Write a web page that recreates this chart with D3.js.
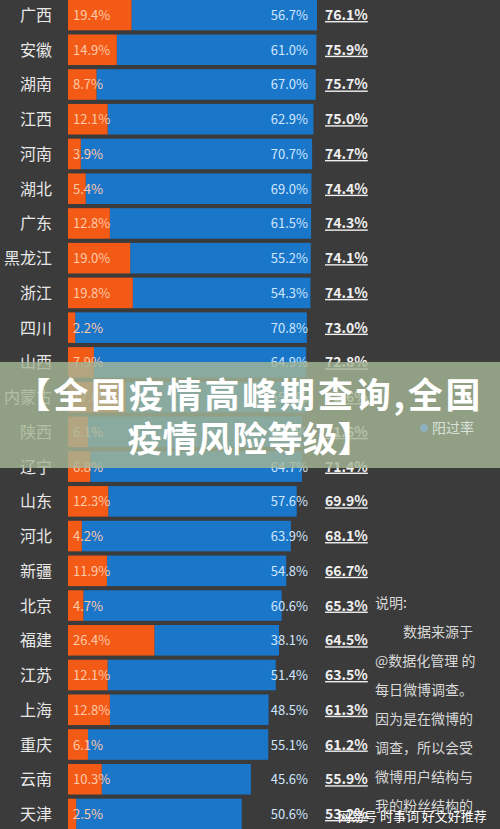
<!DOCTYPE html><html><head><meta charset="utf-8"><script src="https://cdn.jsdelivr.net/npm/d3@7"></script>
<style>body{margin:0;background:#3b3b3b}svg{display:block}</style></head><body><svg width="500" height="829"></svg>
<script>
const provinces=["广西","安徽","湖南","江西","河南","湖北","广东","黑龙江","浙江","四川","山西","内蒙古","陕西","辽宁","山东","河北","新疆","北京","福建","江苏","上海","重庆","云南","天津"];
const current=[19.4,14.9,8.7,12.1,3.9,5.4,12.8,19.0,19.8,2.2,7.9,17.6,6.1,6.8,12.3,4.2,11.9,4.7,26.4,12.1,12.8,6.1,10.3,2.5];
const past=[56.7,61.0,67.0,62.9,70.7,69.0,61.5,55.2,54.3,70.8,64.9,55.0,65.5,64.7,57.6,63.9,54.8,60.6,38.1,51.4,48.5,55.1,45.6,50.6];
const total=[76.1,75.9,75.7,75.0,74.7,74.4,74.3,74.1,74.1,73.0,72.8,72.6,71.6,71.4,69.9,68.1,66.7,65.3,64.5,63.5,61.3,61.2,55.9,53.2];
const notes=["说明:","　　数据来源于","@数据化管理 的","每日微博调查。","因为是在微博的","调查，所以会受","微博用户结构与","我的粉丝结构的"];
const svg=d3.select("svg");
const x=d3.scaleLinear().domain([0,76.1]).range([68,317]);
const y=d3.scaleBand().domain(provinces).range([-2,831]).paddingInner(0.12).paddingOuter(0.05);
const F="'Noto Sans CJK SC','Noto Sans',sans-serif";
const g=svg.selectAll("g.r").data(provinces).join("g");
g.append("rect").attr("x",(d,i)=>x(current[i])).attr("y",d=>y(d)).attr("width",(d,i)=>x(current[i]+past[i])-x(current[i])).attr("height",y.bandwidth()).attr("fill","#1a76c9");
g.append("rect").attr("x",x(0)).attr("y",d=>y(d)).attr("width",(d,i)=>x(current[i])-x(0)).attr("height",y.bandwidth()).attr("fill","#f25a16");
g.append("text").attr("x",52).attr("y",d=>y(d)+y.bandwidth()/2+6).attr("text-anchor","end").attr("fill","#e8e8e8").attr("font-size",16).attr("font-family",F).text(d=>d);
g.append("text").attr("x",73).attr("y",d=>y(d)+y.bandwidth()/2+5).attr("fill","#ffc8a8").attr("font-size",13).attr("font-family",F).text((d,i)=>current[i].toFixed(1)+"%");
g.append("text").attr("x",308).attr("y",d=>y(d)+y.bandwidth()/2+5).attr("text-anchor","end").attr("fill","#cfe6ff").attr("font-size",13).attr("font-family",F).text((d,i)=>past[i].toFixed(1)+"%");
g.append("text").attr("x",325).attr("y",d=>y(d)+y.bandwidth()/2+5).attr("fill","#f0f0f0").attr("font-size",14).attr("font-weight","bold").attr("font-family",F).attr("text-decoration","underline").text((d,i)=>total[i].toFixed(1)+"%");
svg.append("g").selectAll("text").data(notes).join("text").attr("x",375).attr("y",(d,i)=>608+i*29).attr("fill","#d8d8d8").attr("font-size",14).attr("font-family",F).attr("xml:space","preserve").text(d=>d);
svg.append("text").attr("x",338).attr("y",821).attr("fill","#fff").attr("font-size",13).attr("font-family",F).text("网易号 时事词 好文好推荐");
svg.append("rect").attr("x",0).attr("y",362).attr("width",500).attr("height",106).attr("fill","rgba(165,182,150,0.82)");
svg.append("circle").attr("cx",424).attr("cy",428).attr("r",4).attr("fill","#8fb0c0");
svg.append("text").attr("x",432).attr("y",433).attr("fill","#d8e2d8").attr("font-size",14).attr("font-family",F).text("阳过率");
svg.append("text").attr("x",248).attr("y",408).attr("text-anchor","middle").attr("fill","#fff").attr("font-size",35).attr("font-weight","bold").attr("font-family",F).attr("textLength",465).text("【全国疫情高峰期查询,全国");
svg.append("text").attr("x",250).attr("y",452).attr("text-anchor","middle").attr("fill","#fff").attr("font-size",35).attr("font-weight","bold").attr("font-family",F).text("疫情风险等级】");
</script></body></html>
